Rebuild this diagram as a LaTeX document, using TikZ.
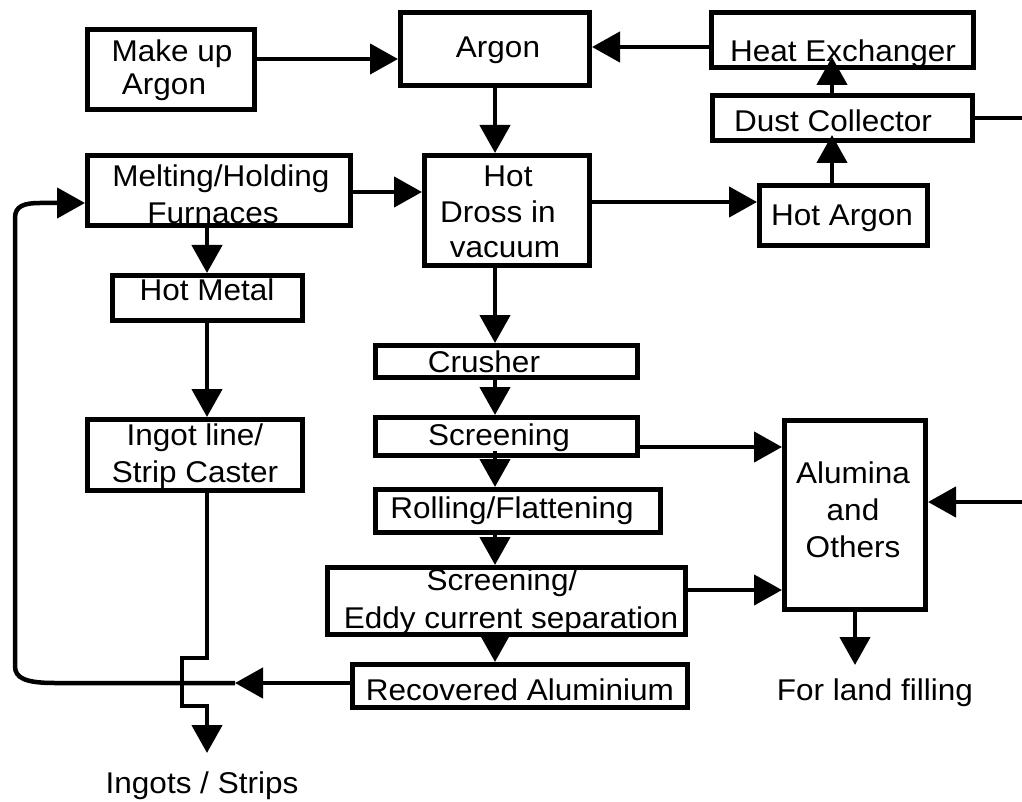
\documentclass[tikz,border=0pt]{standalone}
\usepackage{fontspec}
\setmainfont{Liberation Sans}[FakeStretch=1.05]
\usetikzlibrary{arrows.meta}
\begin{document}
\begin{tikzpicture}[x=1pt,y=-1pt,
  box/.style={draw, line width=5pt, fill=white, inner sep=0pt, rectangle},
  txt/.style={inner sep=0pt, anchor=base, font=\fontsize{30}{36}\selectfont},
  conn/.style={line width=4.5pt},
  arr/.style={conn, -{Triangle[length=28pt,width=30pt]}},
]
\useasboundingbox (0,0) rectangle (1022,802);
% boxes
\node[box, minimum width=167pt, minimum height=80pt]  (makeup)    at (171,69.5)  {};
\node[box, minimum width=189pt, minimum height=73pt]  (argon)     at (495,49)    {};
\node[box, minimum width=262pt, minimum height=55pt]  (heatex)    at (842.5,40)  {};
\node[box, minimum width=260pt, minimum height=45pt]  (dust)      at (842.5,118) {};
\node[box, minimum width=168pt, minimum height=60pt]  (hotargon)  at (843.5,215.5) {};
\node[box, minimum width=263pt, minimum height=70pt]  (melting)   at (219,190.5) {};
\node[box, minimum width=190pt, minimum height=45pt]  (hotmetal)  at (207.5,298) {};
\node[box, minimum width=215pt, minimum height=71pt]  (ingot)     at (195,455)   {};
\node[box, minimum width=165pt, minimum height=110pt] (hotdross)  at (507,210.5) {};
\node[box, minimum width=262pt, minimum height=32pt]  (crusher)   at (506.5,361.5) {};
\node[box, minimum width=262pt, minimum height=38pt]  (screening) at (506.5,436.5) {};
\node[box, minimum width=285pt, minimum height=43pt]  (rolling)   at (518,511)   {};
\node[box, minimum width=358pt, minimum height=67pt]  (eddy)      at (506.5,601) {};
\node[box, minimum width=335pt, minimum height=43pt]  (recovered) at (520,686)   {};
\node[box, minimum width=141pt, minimum height=189pt] (alumina)   at (855,515)   {};
% free ends
\coordinate (hxin)   at (832,57);
\coordinate (dcin)   at (832,135);
\coordinate (dustout) at (1022,118);
\coordinate (rightin) at (1022,502);
\coordinate (landtip) at (855,665);
\coordinate (loopmid) at (235,683);
\coordinate (ingotout) at (207,753);
% connectors
\draw[arr] (makeup.east |- 0,59) -- (argon.west |- 0,59);
\draw[arr] (heatex.west |- 0,47) -- (argon.east |- 0,47);
\draw[arr] (argon.south -| 495,0) -- (hotdross.north -| 495,0);
\draw[arr] (dust.north -| 832,0) -- (hxin);
\draw[arr] (hotargon.north -| 832,0) -- (dcin);
\draw[conn] (dust.east) -- (dustout);
\draw[arr] (melting.east |- 0,192) -- (hotdross.west |- 0,192);
\draw[arr] (hotdross.east |- 0,202) -- (hotargon.west |- 0,202);
\draw[arr] (melting.south -| 207,0) -- (hotmetal.north -| 207,0);
\draw[arr] (hotmetal.south -| 207,0) -- (ingot.north -| 207,0);
\draw[arr] (ingot.south -| 207,0) -- (207,658) -- (182,658) -- (182,706) -- (207,706) -- (ingotout);
\draw[arr] (hotdross.south -| 495,0) -- (crusher.north -| 495,0);
\draw[arr] (crusher.south -| 495,0) -- (screening.north -| 495,0);
\draw[arr] ([yshift=7pt]screening.south -| 495,0) -- (rolling.north -| 495,0);
\draw[arr] (rolling.south -| 495,0) -- (eddy.north -| 495,0);
\draw[arr] (eddy.south -| 495,0) -- (recovered.north -| 495,0);
\draw[arr] (screening.east |- 0,447) -- (alumina.west |- 0,447);
\draw[arr] (eddy.east |- 0,590) -- (alumina.west |- 0,590);
\draw[arr] (rightin) -- (alumina.east |- rightin);
\draw[arr] (alumina.south) -- (landtip);
\draw[arr] (recovered.west |- loopmid) -- (loopmid);
\draw[arr] (loopmid) -- (55,683) .. controls (25,683) and (15,678) .. (15,666)
  -- (15,218) .. controls (15,206) and (24,203) .. (40,203) -- (melting.west |- 0,203);
% texts
\node[txt] (t1)  at (172,62)  {Make up};
\node[txt] (t2)  at (164,95)  {Argon};
\node[txt] (t3)  at (498,58)  {Argon};
\node[txt] (t4)  at (843,62)  {Heat Exchanger};
\node[txt] (t5)  at (833,132) {Dust Collector};
\node[txt] (t6)  at (842,226) {Hot Argon};
\node[txt] (t7)  at (221,187) {Melting/Holding};
\node[txt] (t8)  at (213,224) {Furnaces};
\node[txt] (t9)  at (207,300) {Hot Metal};
\node[txt] (t10) at (195,445) {Ingot line/};
\node[txt] (t11) at (195,482) {Strip Caster};
\node[txt] (t12) at (508,187) {Hot};
\node[txt] (t13) at (498,223) {Dross in};
\node[txt] (t14) at (505,258) {vacuum};
\node[txt] (t15) at (484,372) {Crusher};
\node[txt] (t16) at (499,445) {Screening};
\node[txt] (t17) at (512,518) {Rolling/Flattening};
\node[txt] (t18) at (502,590) {Screening/};
\node[txt] (t19) at (511,628) {Eddy current separation};
\node[txt] (t20) at (520,700) {Recovered Aluminium};
\node[txt] (t21) at (853,483) {Alumina};
\node[txt] (t22) at (853,520) {and};
\node[txt] (t23) at (853,557) {Others};
\node[txt] (t24) at (202,793) {Ingots / Strips};
\node[txt] (t25) at (875,700) {For land filling};
\end{tikzpicture}
\end{document}
